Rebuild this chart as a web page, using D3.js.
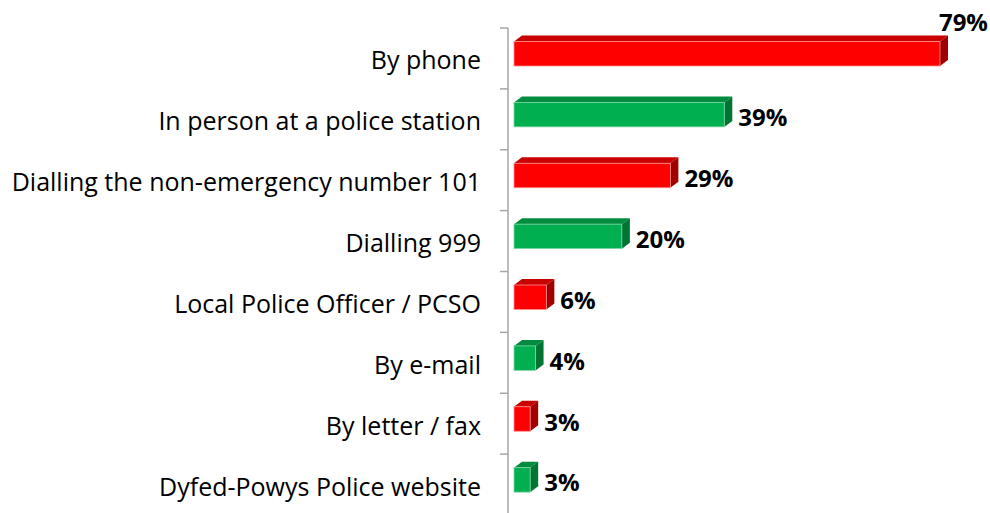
<!DOCTYPE html>
<html>
<head>
<meta charset="utf-8">
<script src="https://cdn.jsdelivr.net/npm/d3@7"></script>
<style>
  body { margin: 0; background: #fff; }
  svg { display: block; }
  .cat { font-family: "Open Sans", sans-serif; font-size: 25px; fill: #000; }
  .val { font-family: "Open Sans", sans-serif; font-size: 24px; font-weight: bold; fill: #000; }
</style>
</head>
<body>
<div id="chart"></div>
<script>
var width = 990, height = 513;

var categories = ["By phone", "In person at a police station", "Dialling the non-emergency number 101",
  "Dialling 999", "Local Police Officer / PCSO", "By e-mail", "By letter / fax", "Dyfed-Powys Police website"];
var values = [79, 39, 29, 20, 6, 4, 3, 3];
var seriesColor = ["red", "green", "red", "green", "red", "green", "red", "green"];

var palette = {
  red:   { front: "#ff0000", top: "#c80000", side: "#a00000", edge: "#ff9090" },
  green: { front: "#00b050", top: "#008c3e", side: "#007533", edge: "#7fd8a6" }
};

var axisX = 508, barX0 = 514;
var dx = 8, dy = 6;

var svg = d3.select("#chart").append("svg")
  .attr("width", width)
  .attr("height", height);

var x = d3.scaleLinear().domain([0, 79]).range([barX0, 940]);
var y = d3.scaleBand().domain(categories).range([28, 515]);

// axis line and tick marks at band boundaries
svg.append("line")
  .attr("x1", axisX).attr("x2", axisX)
  .attr("y1", 28).attr("y2", height)
  .attr("stroke", "#a6a6a6").attr("stroke-width", 1.5);

var bounds = categories.map(function(c) { return y(c); });
svg.selectAll(".tick").data(bounds).enter().append("line")
  .attr("x1", 500).attr("x2", axisX)
  .attr("y1", function(d) { return d; }).attr("y2", function(d) { return d; })
  .attr("stroke", "#a6a6a6").attr("stroke-width", 1.5);

// category labels
svg.selectAll(".cat").data(categories).enter().append("text")
  .attr("class", "cat")
  .attr("x", 481)
  .attr("y", function(d) { return y(d) + y.bandwidth() / 2 + 1; })
  .attr("text-anchor", "end")
  .attr("dominant-baseline", "central")
  .text(function(d) { return d; });

var bars = svg.selectAll(".bar").data(categories).enter().append("g").attr("class", "bar");

function frontTop(i) { return y(categories[i]) + 13.5; }
var frontH = 24.5;

// top face
bars.append("path")
  .attr("fill", function(d, i) { return palette[seriesColor[i]].top; })
  .attr("d", function(d, i) {
    var x0 = barX0, x1 = x(values[i]), t = frontTop(i);
    return "M" + x0 + "," + t + "L" + (x0 + dx) + "," + (t - dy) + "L" + (x1 + dx) + "," + (t - dy) + "L" + x1 + "," + t + "Z";
  });

// side face
bars.append("path")
  .attr("fill", function(d, i) { return palette[seriesColor[i]].side; })
  .attr("d", function(d, i) {
    var x1 = x(values[i]), t = frontTop(i);
    return "M" + x1 + "," + t + "L" + (x1 + dx) + "," + (t - dy) + "L" + (x1 + dx) + "," + (t - dy + frontH) + "L" + x1 + "," + (t + frontH) + "Z";
  });

// front face
bars.append("rect")
  .attr("x", barX0)
  .attr("y", function(d, i) { return frontTop(i); })
  .attr("width", function(d, i) { return x(values[i]) - barX0; })
  .attr("height", frontH)
  .attr("fill", function(d, i) { return palette[seriesColor[i]].front; })
  .attr("stroke", function(d, i) { return palette[seriesColor[i]].edge; })
  .attr("stroke-width", 0.8);

// value labels
bars.append("text")
  .attr("class", "val")
  .attr("x", function(d, i) { return x(values[i]) + dx + 6; })
  .attr("y", function(d, i) { return frontTop(i) + frontH / 2 + 2; })
  .attr("dominant-baseline", "central")
  .text(function(d, i) { return values[i] + "%"; })
  .each(function(d, i) {
    var w = this.getComputedTextLength();
    var lx = +this.getAttribute("x");
    if (lx + w > width - 2) {
      d3.select(this)
        .attr("x", width - 2 - w)
        .attr("y", frontTop(i) - dy - 14);
    }
  });
</script>
</body>
</html>
